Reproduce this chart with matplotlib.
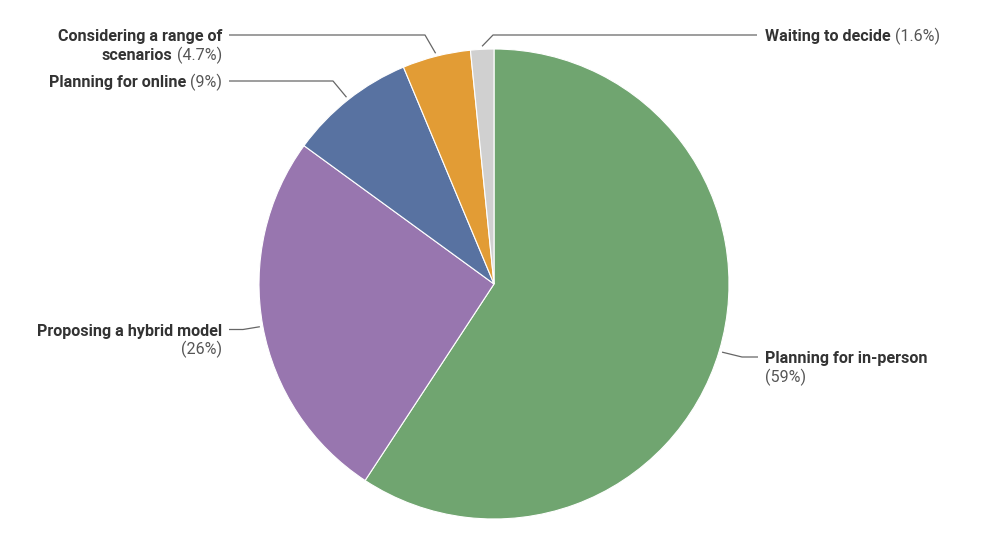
import matplotlib
matplotlib.use("Agg")
import matplotlib.pyplot as plt
from matplotlib import font_manager as fm
import numpy as np

labels = ["Planning for in-person", "Proposing a hybrid model", "Planning for online",
          "Considering a range of scenarios", "Waiting to decide"]
values = [59.3, 25.8, 8.7, 4.7, 1.6]
pct_labels = ["(59%)", "(26%)", "(9%)", "(4.7%)", "(1.6%)"]
colors = ["#70a570", "#9876af", "#5872a1", "#e29c35", "#d0d0d0"]

W, H = 983, 553
fig = plt.figure(figsize=(W / 100, H / 100), dpi=100)
ax = fig.add_axes([0, 0, 1, 1])
ax.set_xlim(0, W)
ax.set_ylim(0, H)
ax.set_aspect("equal")
ax.axis("off")

cx, cy, R = 494, H - 284, 235
wedges, _ = ax.pie(values, colors=colors, startangle=90, counterclock=False,
                   center=(cx, cy), radius=R, normalize=True,
                   wedgeprops=dict(edgecolor="white", linewidth=0.8))
ax.set_xlim(0, W)
ax.set_ylim(0, H)

FS = 11.6
BOLD_C = "#333333"
REG_C = "#555555"


def find_font(fname, fallback_weight):
    for f in fm.fontManager.ttflist:
        if f.fname.split("/")[-1] == fname:
            return fm.FontProperties(fname=f.fname, size=FS)
    return fm.FontProperties(family=["Roboto", "DejaVu Sans"], weight=fallback_weight, size=FS)


FP = {"bold": find_font("Roboto-Bold.ttf", "bold"),
      "normal": find_font("Roboto-Regular.ttf", "normal")}

fig.canvas.draw()
renderer = fig.canvas.get_renderer()


def text_width(s, weight):
    t = ax.text(0, 0, s, fontproperties=FP[weight])
    w = t.get_window_extent(renderer).width
    t.remove()
    return w


TEXT_DY = 1.8


def rich_line(x, y, parts, ha):
    gap = 4
    yy = H - (y + TEXT_DY)
    if ha == "left":
        pos = x
        for s, wgt, col in parts:
            ax.text(pos, yy, s, fontproperties=FP[wgt], color=col,
                    ha="left", va="center")
            pos += text_width(s, wgt) + gap
    else:
        pos = x
        for s, wgt, col in reversed(parts):
            ax.text(pos, yy, s, fontproperties=FP[wgt], color=col,
                    ha="right", va="center")
            pos -= text_width(s, wgt) + gap


LS = 18.5
layout = {
    0: ([[(labels[0], "bold", BOLD_C)], [(pct_labels[0], "normal", REG_C)]],
        "left", 765, 357, (742, 357), 758),
    1: ([[(labels[1], "bold", BOLD_C)], [(pct_labels[1], "normal", REG_C)]],
        "right", 222, 329.5, (243, 329.5), 229),
    2: ([[(labels[2], "bold", BOLD_C), (pct_labels[2], "normal", REG_C)]],
        "right", 222, 81, (333, 81), 229),
    3: ([[("Considering a range of", "bold", BOLD_C)],
         [("scenarios", "bold", BOLD_C), (pct_labels[3], "normal", REG_C)]],
        "right", 222, 35, (425, 35), 229),
    4: ([[(labels[4], "bold", BOLD_C), (pct_labels[4], "normal", REG_C)]],
        "left", 765, 35, (493, 35), 757),
}

for i, w in enumerate(wedges):
    lines, ha, tx, ty, (ex, ey), lx = layout[i]
    mid = np.deg2rad((w.theta1 + w.theta2) / 2)
    sx = cx + (R + 3) * np.cos(mid)
    sy = cy + (R + 3) * np.sin(mid)
    ax.plot([sx, ex, lx], [sy, H - ey, H - ey], color="#666666", lw=0.9,
            solid_capstyle="butt")
    for k, parts in enumerate(lines):
        rich_line(tx, ty + k * LS, parts, ha)

fig.savefig("out.png", dpi=100, facecolor="white")
